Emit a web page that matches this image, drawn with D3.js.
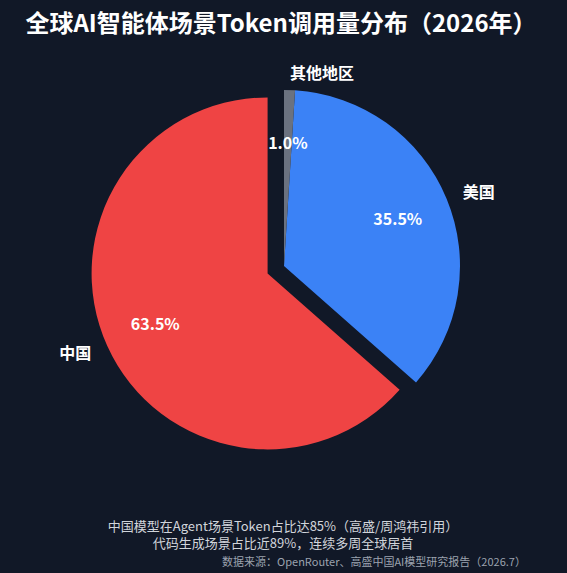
<!DOCTYPE html>
<html><head><meta charset="utf-8">
<script src="https://d3js.org/d3.v7.min.js"></script>
<style>body{margin:0;background:#111827;font-family:"Noto Sans CJK SC","Noto Sans",sans-serif;}</style>
</head><body><div id="chart"></div>
<script>
var regions = ["中国", "美国", "其他地区"];
var shares = [63.5, 35.5, 1.0];
var colors = ["#ef4444", "#3b82f6", "#6b7280"];

var width = 567, height = 573;
var cx = 284, cy = 266, R = 176;
var svg = d3.select("#chart").append("svg").attr("width", width).attr("height", height);
svg.append("rect").attr("width", width).attr("height", height).attr("fill", "#111827");

svg.append("text").attr("x", 281).attr("y", 32).attr("text-anchor", "middle")
  .attr("fill", "#fff").attr("font-size", 24).attr("font-weight", "bold")
  .text("全球AI智能体场景Token调用量分布（2026年）");

// counterclockwise from top, like matplotlib startangle=90
var data = regions.map(function(r, i) { return {name: r, value: shares[i], color: colors[i]}; });
var total = d3.sum(shares);
var a = 0;
data.forEach(function(d) {
  d.startAngle = a;
  a -= d.value / total * 2 * Math.PI;
  d.endAngle = a;
});
var arc = d3.arc().innerRadius(0).outerRadius(R);
var g = svg.append("g").attr("transform", "translate(" + cx + "," + cy + ")");

data.forEach(function(d, i) {
  var mid = (d.startAngle + d.endAngle) / 2;
  var off = i === 0 ? 18 : 0;
  var dx = Math.sin(mid) * off, dy = -Math.cos(mid) * off;
  var sg = g.append("g").attr("transform", "translate(" + dx + "," + dy + ")");
  sg.append("path").attr("d", arc({startAngle: d.endAngle, endAngle: d.startAngle}))
    .attr("fill", d.color);
  var pr = R * 0.7, lr = R * 1.1;
  sg.append("text").attr("x", Math.sin(mid) * pr).attr("y", -Math.cos(mid) * pr + 6)
    .attr("text-anchor", "middle").attr("fill", "#fff").attr("font-size", 16)
    .attr("font-weight", "bold").text(d.value.toFixed(1) + "%");
  sg.append("text").attr("x", Math.sin(mid) * lr).attr("y", -Math.cos(mid) * lr + 6)
    .attr("text-anchor", Math.sin(mid) < -0.1 ? "end" : "start")
    .attr("fill", "#fff").attr("font-size", 16).attr("font-weight", "bold").text(d.name);
});

var notes = ["中国模型在Agent场景Token占比达85%（高盛/周鸿祎引用）", "代码生成场景占比近89%，连续多周全球居首"];
notes.forEach(function(t, i) {
  svg.append("text").attr("x", 283).attr("y", 531 + i * 17).attr("text-anchor", "middle")
    .attr("fill", "#d1d5db").attr("font-size", 13).text(t);
});
svg.append("text").attr("x", 374).attr("y", 566).attr("text-anchor", "middle")
  .attr("fill", "#9ca3af").attr("font-size", 11).text("数据来源：OpenRouter、高盛中国AI模型研究报告（2026.7）");
</script></body></html>
